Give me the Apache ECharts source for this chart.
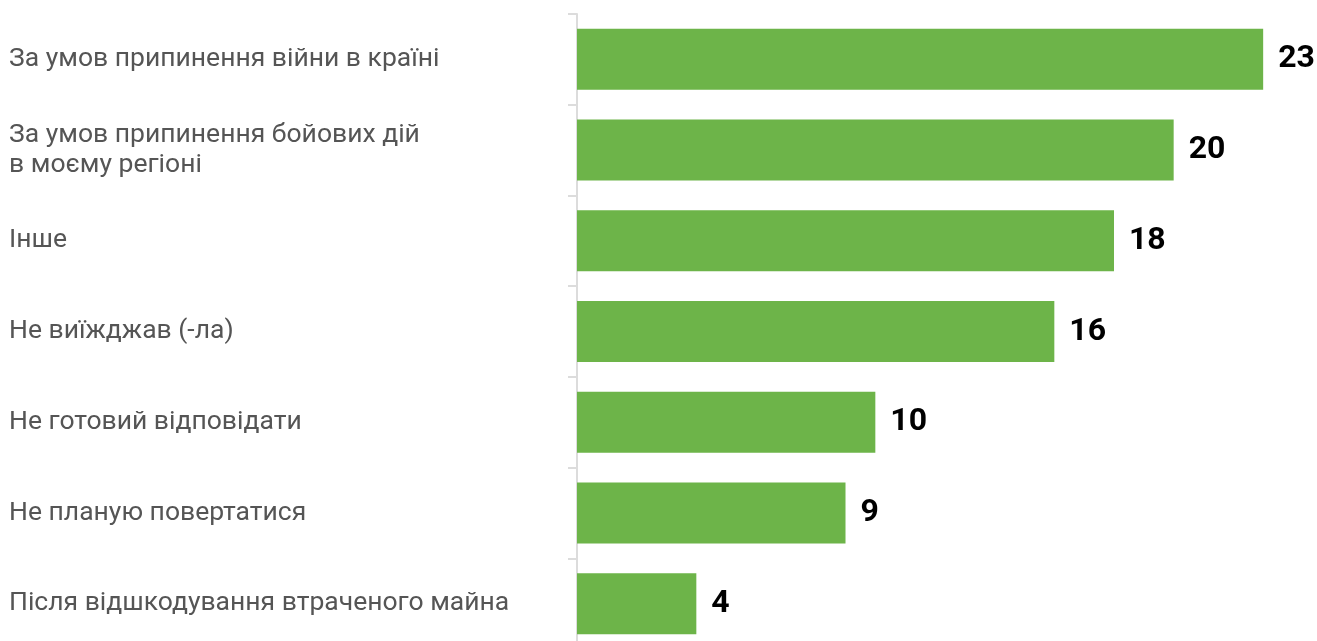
<!DOCTYPE html>
<html>
<head>
<meta charset="utf-8">
<script src="https://cdn.jsdelivr.net/npm/echarts@6/dist/echarts.min.js"></script>
<style>
html,body{margin:0;padding:0;background:#fff;overflow:hidden;}
#chart{width:1317px;height:650px;}
</style>
</head>
<body>
<div id="chart"></div>
<script>
const categories = [
  "За умов припинення війни в країні",
  "За умов припинення бойових дій\nв моєму регіоні",
  "Інше",
  "Не виїжджав (-ла)",
  "Не готовий відповідати",
  "Не планую повертатися",
  "Після відшкодування втраченого майна"
];
const values = [23, 20, 18, 16, 10, 9, 4];

const chart = echarts.init(document.getElementById('chart'), null, {renderer: 'canvas'});
chart.setOption({
  animation: false,
  grid: {left: 577, top: 14, width: 716, height: 635, containLabel: false},
  xAxis: {
    type: 'value', min: 0, max: 24, show: false
  },
  yAxis: {
    type: 'category', data: categories, inverse: true,
    axisLine: {show: true, lineStyle: {color: '#dcdcdc', width: 2}},
    axisTick: {show: true, length: 9, lineStyle: {color: '#dcdcdc', width: 2}},
    axisLabel: {
      align: 'left', margin: 568, color: '#555555',
      fontFamily: 'Roboto', fontSize: 26.5, lineHeight: 30,
      padding: [5, 0, 0, 0]
    },
    splitLine: {show: false}
  },
  series: [{
    type: 'bar', data: values, barWidth: 61,
    itemStyle: {color: '#6db449'},
    label: {
      show: true, position: 'right', distance: 15,
      color: '#000', fontFamily: 'Roboto', fontWeight: 'bold', fontSize: 32,
      padding: [2, 0, 0, 0]
    }
  }]
});
</script>
</body>
</html>
